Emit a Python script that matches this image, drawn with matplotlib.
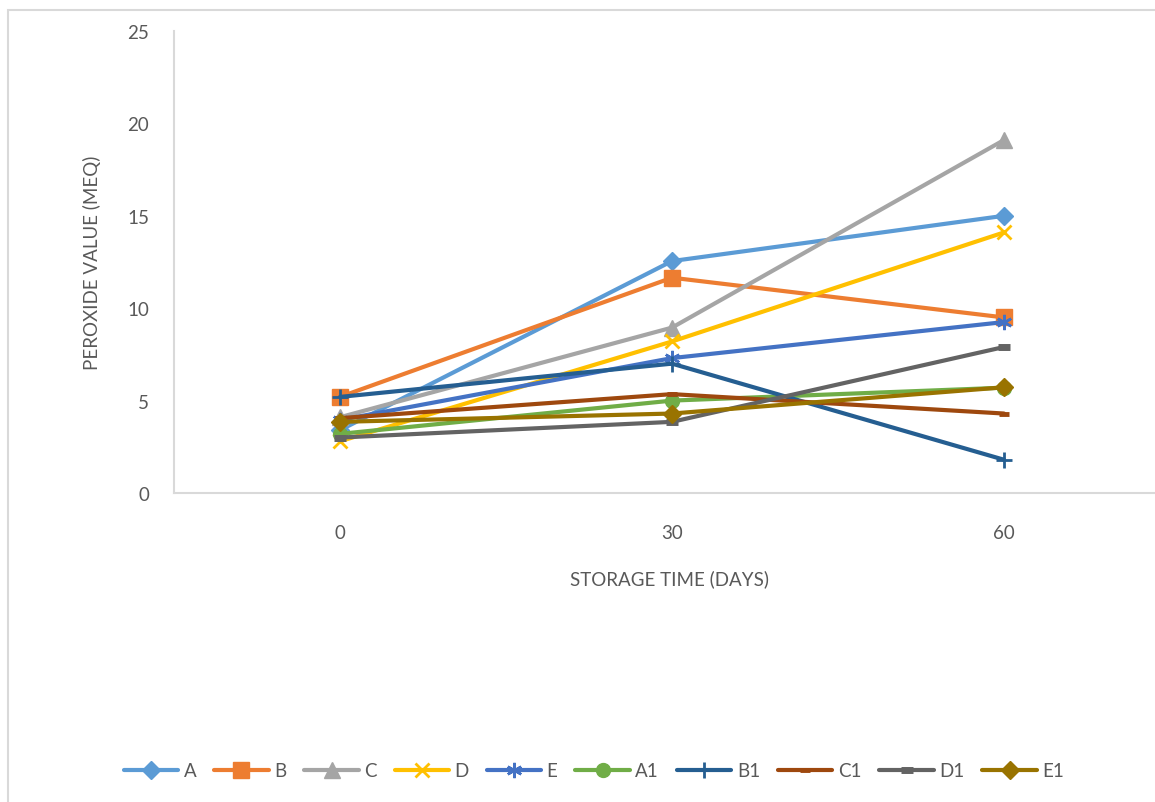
import matplotlib
matplotlib.use('Agg')
import matplotlib.pyplot as plt
from matplotlib.patches import Rectangle

plt.rcParams['font.family'] = ['Lato', 'DejaVu Sans']

# storage days (categories) and peroxide values
days = ['0', '30', '60']
A = [3.4, 12.55, 15.0]
B = [5.2, 11.65, 9.5]
C = [4.1, 8.95, 19.1]
D = [2.8, 8.2, 14.1]
E = [3.95, 7.3, 9.25]
A1 = [3.2, 5.0, 5.7]
B1 = [5.2, 7.0, 1.8]
C1 = [4.05, 5.35, 4.3]
D1 = [3.0, 3.85, 7.9]
E1 = [3.85, 4.3, 5.72]

names = ['A', 'B', 'C', 'D', 'E', 'A1', 'B1', 'C1', 'D1', 'E1']
series = [A, B, C, D, E, A1, B1, C1, D1, E1]
colors = ['#5B9BD5', '#ED7D31', '#A5A5A5', '#FFC000', '#4472C4',
          '#70AD47', '#255E91', '#9E480E', '#636363', '#997300']
# marker, size, edge width
markers = [('D', 9, 1), ('s', 11, 1), ('^', 12, 1), ('x', 10, 2), ((6, 2, 0), 11, 1.8),
           ('o', 10, 1), ('+', 12, 2), ('_', 7, 3.5), ('_', 9, 5), ('D', 9, 1)]

fig = plt.figure(figsize=(11.55, 8.03), dpi=100)
ax = fig.add_axes([174 / 1155, 309 / 803, 996 / 1155, 462 / 803])

x = range(len(days))
for name, vals, col, (m, ms, mew) in zip(names, series, colors, markers):
    ax.plot(x, vals, color=col, lw=3, marker=m, ms=ms, mew=mew,
            mec=col, mfc=col, label=name, solid_capstyle='round')

ax.set_xlim(-0.5, 2.5)
ax.set_ylim(0, 25)
ax.set_yticks([0, 5, 10, 15, 20, 25])
ax.set_xticks(list(x))
ax.set_xticklabels(days)
ax.tick_params(length=0, labelsize=13.5, labelcolor='#595959')
ax.tick_params(axis='y', pad=18)
ax.tick_params(axis='x', pad=22)
for s in ['top', 'right']:
    ax.spines[s].set_visible(False)
for s in ['left', 'bottom']:
    ax.spines[s].set_color('#D9D9D9')
    ax.spines[s].set_linewidth(1.5)

ax.set_xlabel('STORAGE TIME (DAYS)', fontsize=13.5, color='#595959')
ax.set_ylabel('PEROXIDE VALUE (MEQ)', fontsize=13.5, color='#595959')
ax.xaxis.set_label_coords((670 - 174) / 996, -(579 - 494) / 462)
ax.yaxis.set_label_coords(-(174 - 92) / 996, (494 - 263) / 462)
ax.xaxis.label.set_va('center')
ax.yaxis.label.set_va('center')

leg = fig.legend(loc='center', bbox_to_anchor=(594 / 1155, 1 - 772 / 803), ncol=10,
                 frameon=False, fontsize=13.5, handlelength=2.9, handletextpad=0.3,
                 columnspacing=0.95, labelcolor='#595959')

# chart outer border
fig.patches.append(Rectangle((8 / 1155, -0.05), 1.1, 1 - 11 / 803 + 0.05,
                             transform=fig.transFigure, fill=False,
                             edgecolor='#D9D9D9', lw=1.5))

fig.savefig('out.png', dpi=100)
